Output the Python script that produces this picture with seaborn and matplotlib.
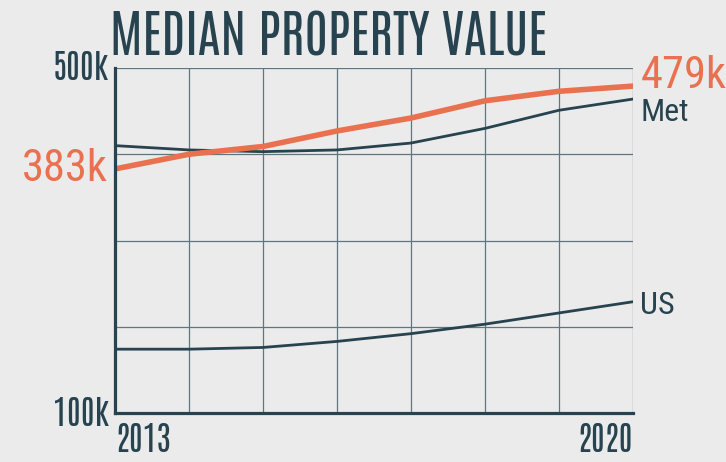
import pandas as pd
import matplotlib
matplotlib.use("Agg")
import matplotlib.pyplot as plt
import seaborn as sns

# data (values in thousands)
years = [2013, 2014, 2015, 2016, 2017, 2018, 2019, 2020]
local_vals = [383, 400, 409, 427, 442, 462, 473, 479]
met_vals = [410, 405, 403, 405, 413, 430, 451, 464]
us_vals = [174, 174, 176, 183, 192, 203, 216, 229]

BG = '#ebebeb'
DARK = '#27434f'
ORANGE = '#e9714f'
GRID = '#5f7680'
TITLE_FONT = ['Antonio', 'Roboto Condensed', 'DejaVu Sans']
LABEL_FONT = ['Roboto Condensed', 'DejaVu Sans']

sns.set_theme(style='white')
plt.rcParams['font.family'] = LABEL_FONT

df = pd.DataFrame({
    'year': years * 3,
    'value': local_vals + met_vals + us_vals,
    'series': ['Local'] * 8 + ['Met'] * 8 + ['US'] * 8,
})

fig = plt.figure(figsize=(7.26, 4.62), dpi=100, facecolor=BG)
ax = fig.add_axes([115 / 726, 1 - 413 / 462, 518 / 726, 345 / 462])
ax.set_facecolor(BG)

sns.lineplot(data=df[df.series != 'Local'], x='year', y='value', hue='series',
             palette={'Met': DARK, 'US': DARK}, linewidth=2, legend=False, ax=ax)
sns.lineplot(data=df[df.series == 'Local'], x='year', y='value',
             color=ORANGE, linewidth=4, legend=False, ax=ax)

ax.set_xlim(2013, 2020)
ax.set_ylim(100, 500)
ax.set_xticks(years)
ax.set_yticks([100, 200, 300, 400, 500])
ax.grid(True, color=GRID, linewidth=0.9)
ax.set_xticklabels([])
ax.set_yticklabels([])
ax.tick_params(length=0)
ax.set_xlabel('')
ax.set_ylabel('')
for s in ['top', 'right']:
    ax.spines[s].set_visible(False)
for s in ['left', 'bottom']:
    ax.spines[s].set_color(DARK)
    ax.spines[s].set_linewidth(2.3)
ax.set_axisbelow(True)

# axis labels (condensed)
tk = dict(color=DARK, fontsize=24, family=TITLE_FONT)
ax.text(-0.012, 1.0, '500k', transform=ax.transAxes, ha='right', va='center', **tk)
ax.text(-0.012, 0.0, '100k', transform=ax.transAxes, ha='right', va='center', **tk)
ax.text(0.0, -0.03, '2013', transform=ax.transAxes, ha='left', va='top', **tk)
ax.text(1.0, -0.03, '2020', transform=ax.transAxes, ha='right', va='top', **tk)

# end labels
ax.text(2012.9, local_vals[0], f'{local_vals[0]}k', ha='right', va='center',
        color=ORANGE, fontsize=32)
ax.text(2020.1, local_vals[-1] + 12, f'{local_vals[-1]}k', ha='left', va='center',
        color=ORANGE, fontsize=32)
ax.text(2020.1, met_vals[-1] - 16, 'Met', ha='left', va='center', color=DARK, fontsize=23)
ax.text(2020.1, us_vals[-1] - 4, 'US', ha='left', va='center', color=DARK, fontsize=23)

fig.text(110 / 726, 1 - 55 / 462, 'MEDIAN PROPERTY VALUE', ha='left', va='baseline',
         color=DARK, fontsize=37, family=TITLE_FONT)

fig.savefig('out.png', dpi=100, facecolor=BG)
